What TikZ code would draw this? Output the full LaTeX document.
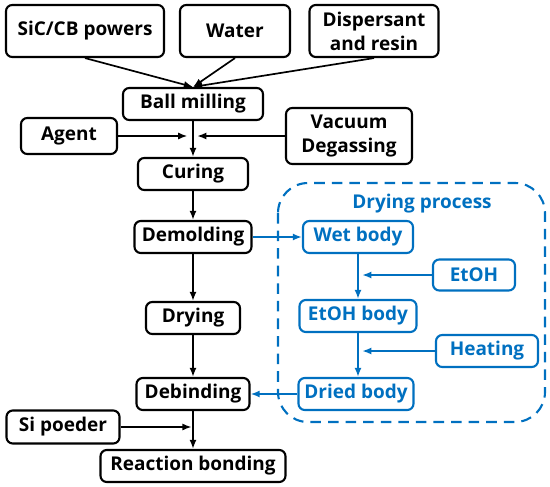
\documentclass[tikz,border=0pt]{standalone}
\usepackage{fontspec}
\setsansfont{Open Sans}
\usetikzlibrary{arrows.meta}
\definecolor{procblue}{RGB}{0,112,192}
\newcommand{\FlowTip}{Latex[length=6.5pt,width=5pt]}
\tikzset{box/.style={draw,rounded corners=4.5pt,line width=1.5pt,align=center,inner sep=0pt,font=\sffamily\bfseries\fontsize{13.5}{17}\selectfont}}
\tikzset{bbox/.style={box,draw=procblue,text=procblue}}
\tikzset{flow/.style={-{\FlowTip},line width=1.2pt}}
\tikzset{bflow/.style={flow,draw=procblue}}
\tikzset{dryframe/.style={draw=procblue,line width=1.5pt,dash pattern=on 7.5pt off 5pt,rounded corners=0.75cm}}
\begin{document}
\begin{tikzpicture}[x=0.025cm,y=-0.025cm]
\useasboundingbox (0,0) rectangle (550,486);
% inputs
\node[box,minimum width=3.95cm,minimum height=1.3cm](sic)at(85,31){SiC/CB powers};
\node[box,minimum width=2.75cm,minimum height=1.3cm](water)at(235,31){Water};
\node[box,minimum width=3.225cm,minimum height=1.3cm](disp)at(374,31){Dispersant\\and resin};
% main line
\node[box,minimum width=3.5cm,minimum height=0.8cm](ball)at(193,104){Ball milling};
\node[box,minimum width=2.4cm,minimum height=0.9cm](agent)at(69,136){Agent};
\node[box,minimum width=3.15cm,minimum height=1.4cm](vac)at(349,136){Vacuum\\Degassing};
\node[box,minimum width=2.75cm,minimum height=0.8cm](cure)at(193,174){Curing};
\node[box,minimum width=2.925cm,minimum height=0.8cm](demold)at(193,237){Demolding};
\node[box,minimum width=2.35cm,minimum height=0.8cm](dry)at(193,318){Drying};
\node[box,minimum width=2.825cm,minimum height=0.8cm](debind)at(193,394){Debinding};
\node[box,minimum width=2.825cm,minimum height=0.825cm](si)at(63,427){Si poeder};
\node[box,minimum width=4.625cm,minimum height=0.8cm](react)at(193,466){Reaction bonding};
\coordinate(jmix)at(193,136);\coordinate(jsi)at(193,427);
% drying process
\draw[dryframe](278,183)rectangle(545,422);
\node[font=\sffamily\bfseries\fontsize{13.5}{17}\selectfont,text=procblue](title)at(422,204){Drying process};
\node[bbox,minimum width=2.75cm,minimum height=0.8cm](wet)at(358,237){Wet body};
\node[bbox,minimum width=2.05cm,minimum height=0.775cm](etoh)at(474,275){EtOH};
\node[bbox,minimum width=2.925cm,minimum height=0.8cm](ebody)at(358,316){EtOH body};
\node[bbox,minimum width=2.55cm,minimum height=0.8cm](heat)at(487,351){Heating};
\node[bbox,minimum width=2.875cm,minimum height=0.8cm](dried)at(356,394){Dried body};
\coordinate(jetoh)at(358,275);\coordinate(jheat)at(358,351);
% connectors
\draw[flow](sic.south)--(ball.north);\draw[flow](water.south)--(ball.north);\draw[flow](disp.south)--(ball.north);
\draw[flow](ball)--(cure);\draw[flow,shorten >=4pt](agent)--(jmix);\draw[flow,shorten >=3pt](vac)--(jmix);
\draw[flow](cure)--(demold);\draw[flow](demold)--(dry);\draw[flow](dry)--(debind);
\draw[flow](debind)--(react);\draw[flow,shorten >=1pt](si)--(jsi);
\draw[bflow](demold)--(wet);\draw[bflow](wet.south)--(wet.south|-ebody.north);\draw[bflow](ebody.south)--(ebody.south|-dried.north);
\draw[bflow,shorten >=3pt](etoh)--(jetoh);\draw[bflow,shorten >=3pt](heat)--(jheat);
\draw[bflow](dried)--(debind);
\end{tikzpicture}
\end{document}
